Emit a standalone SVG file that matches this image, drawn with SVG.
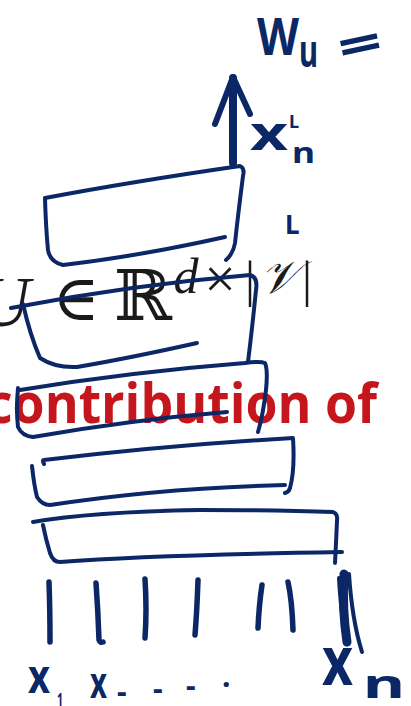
<svg xmlns="http://www.w3.org/2000/svg" width="411" height="706" viewBox="0 0 411 706">
<style>
.ink{fill:none;stroke:#0b2766;stroke-width:4;stroke-linecap:round;stroke-linejoin:round}
.thick{fill:none;stroke:#0b2766;stroke-width:5.5;stroke-linecap:round;stroke-linejoin:round}
.hw{fill:#0b2766;font-family:"Noto Sans","DejaVu Sans",sans-serif;font-weight:bold}
.math{fill:#1a1a1a;font-family:"Liberation Serif","DejaVu Serif",serif}
.red{fill:#c4161c;font-family:"Open Sans","Noto Sans",sans-serif;font-weight:bold}
</style>
<rect width="411" height="706" fill="#ffffff"/>

<g id="formula">
<text class="math" x="30" y="326" font-size="72" font-style="italic" text-anchor="end">U</text>
<text class="math" x="76" y="320" font-size="64" text-anchor="middle">∈</text>
<text class="math" x="143" y="320" font-size="70" text-anchor="middle">ℝ</text>
<text class="math" x="186" y="293" font-size="50" font-style="italic" text-anchor="middle">d</text>
<text class="math" x="220" y="298" font-size="56" text-anchor="middle">×</text>
<text class="math" x="250" y="296" font-size="50" text-anchor="middle">|</text>
<text class="math" x="279" y="293" font-size="46" font-style="italic" text-anchor="middle">𝒱</text>
<text class="math" x="307" y="296" font-size="50" text-anchor="middle">|</text>
</g>

<g id="caption">
<text class="red" x="-14" y="423" font-size="56" textLength="391" lengthAdjust="spacingAndGlyphs">contribution of</text>
</g>

<g id="box1">
<path class="ink" d="M45,198 Q130,182 240,166 Q245,168 243,176 Q238,215 235,243 Q233,254 226,260"/>
<path class="ink" d="M45,199 Q46,230 48,250 Q50,262 63,265 Q140,256 225,237"/>
</g>

<g id="box2">
<path class="ink" d="M11,308 Q130,285 250,275 Q258,277 256,290 Q252,330 248,362"/>
<path class="ink" d="M23,304 Q30,335 40,358 Q55,368 77,367 Q130,358 197,343"/>
</g>

<g id="box3">
<path class="ink" d="M20,390 Q130,372 245,363 Q260,361 265,363 Q268,370 266,390 Q263,415 258,432"/>
<path class="ink" d="M18,388 Q16,410 18,427 Q22,436 33,437 Q130,420 227,412"/>
</g>

<g id="box4">
<path class="ink" d="M44,464 Q42,460 44,460 Q170,445 293,438 Q295,470 290,488 Q289,492 285,493"/>
<path class="ink" d="M32,466 Q34,485 37,497 Q42,505 50,505 Q160,488 285,485"/>
</g>

<g id="box5">
<path class="ink" d="M33,522 Q90,512 200,510 Q280,510 333,512 Q338,514 337,520 Q336,545 335,563"/>
<path class="ink" d="M43,525 Q46,540 50,553 Q53,562 60,562 Q150,555 342,552"/>
</g>

<g id="connectors">
<path fill="none" stroke="#0b2766" stroke-width="8" stroke-linecap="round" d="M233,78 L233,163"/>
<path fill="none" stroke="#0b2766" stroke-width="6" stroke-linecap="round" stroke-linejoin="round" d="M215,124 L233,77 L250,114"/>
<path class="thick" d="M49,582 Q50,610 50,642"/>
<path class="thick" d="M96,583 Q98,610 99,640 Q100,643 103,642"/>
<path class="thick" d="M145,579 Q147,610 145,638"/>
<path class="thick" d="M198,580 Q197,610 195,635"/>
<path class="thick" d="M262,585 Q259,605 258,628"/>
<path class="thick" d="M288,582 Q292,600 293,630"/>
<path fill="none" stroke="#0b2766" stroke-width="9" stroke-linecap="round" d="M344,574 Q342,610 347,642"/>
<path class="ink" d="M349,574 Q352,620 362,652"/>
<path class="ink" d="M339,578 Q340,600 344,630"/>
</g>

<g id="handwriting">
<text class="hw" x="257" y="55" font-size="52" textLength="42" lengthAdjust="spacingAndGlyphs">W</text>
<text class="hw" x="299" y="67" font-size="45" textLength="19" lengthAdjust="spacingAndGlyphs">u</text>
<text class="hw" x="338" y="62" font-size="50" textLength="44" lengthAdjust="spacingAndGlyphs" transform="rotate(-12 360 45)">=</text>
<text class="hw" x="250" y="150" font-size="47" textLength="38" lengthAdjust="spacingAndGlyphs">x</text>
<text class="hw" x="289" y="128" font-size="18">L</text>
<text class="hw" x="292" y="163" font-size="28" textLength="23" lengthAdjust="spacingAndGlyphs">n</text>
<text class="hw" x="285" y="234" font-size="26" font-weight="normal">L</text>
<text class="hw" x="28" y="693" font-size="46" textLength="22" lengthAdjust="spacingAndGlyphs">x</text>
<text class="hw" x="57" y="706" font-size="18" textLength="6" lengthAdjust="spacingAndGlyphs">1</text>
<text class="hw" x="90" y="698" font-size="43" textLength="17" lengthAdjust="spacingAndGlyphs">x</text>
<text class="hw" font-size="30" x="117 153 186 222" y="702 699 696 687">---.</text>
<text class="hw" x="322" y="685" font-size="69" textLength="31" lengthAdjust="spacingAndGlyphs">x</text>
<text class="hw" x="363" y="698" font-size="39" textLength="42" lengthAdjust="spacingAndGlyphs">n</text>
</g>
</svg>
